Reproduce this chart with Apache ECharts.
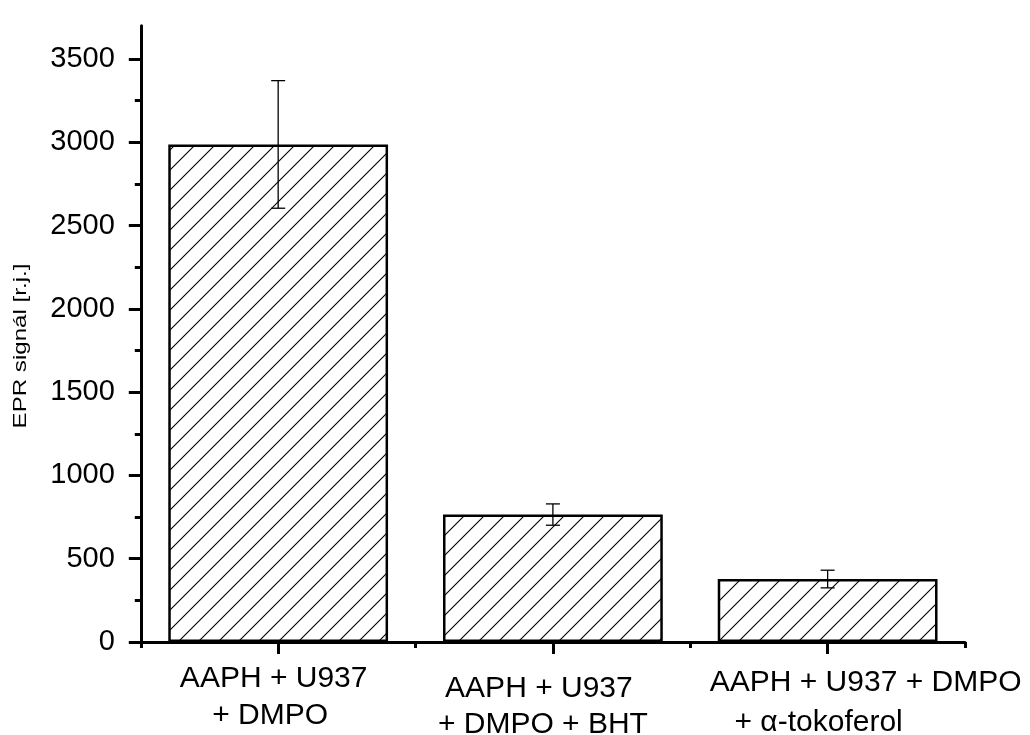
<!DOCTYPE html>
<html>
<head>
<meta charset="utf-8">
<script src="https://cdn.jsdelivr.net/npm/echarts@6/dist/echarts.min.js"></script>
<style>
  html, body { margin: 0; padding: 0; background: #fff; }
  #chart { width: 1030px; height: 735px; }
</style>
</head>
<body>
<div id="chart"></div>
<script>
// Sample groups (two-line labels)
const categories = [
  'AAPH + U937\n+ DMPO',
  'AAPH + U937\n+ DMPO + BHT',
  'AAPH + U937 + DMPO\n+ α-tokoferol'
];
// Mean EPR signal and its standard deviation
const signal = [2987, 765, 378];
const deviation = [383, 64, 53];
// Value-axis ticks
const majorTicks = [0, 500, 1000, 1500, 2000, 2500, 3000, 3500];
const minorTicks = [250, 750, 1250, 1750, 2250, 2750, 3250];

const FONT = 'Liberation Sans, Arial, sans-serif';
const Y_MAX = 3700;

// Diagonal hatch tile used to fill the bars
function hatchTile() {
  const s = 20;
  const c = document.createElement('canvas');
  c.width = s; c.height = s;
  const g = c.getContext('2d');
  g.fillStyle = '#fff';
  g.fillRect(0, 0, s, s);
  g.strokeStyle = '#000';
  g.lineWidth = 1.1;
  g.beginPath();
  g.moveTo(-2, s + 2); g.lineTo(s + 2, -2);
  g.moveTo(-2, 2); g.lineTo(2, -2);
  g.moveTo(s - 2, s + 2); g.lineTo(s + 2, s - 2);
  g.stroke();
  return c;
}

// Per-line layout of the category labels: [lineHeight, right pad, left pad]
const lineLayout = [
  [[28, 9, 0], [46, 16, 0]],
  [[48, 28, 0], [24, 20, 0]],
  [[36, 0, 76], [44, 18, 0]]
];
const rich = {};
lineLayout.forEach((lines, i) => {
  lines.forEach((o, j) => {
    rich['c' + i + '_' + j] = {
      fontSize: 30, fontFamily: FONT, color: '#000', lineHeight: o[0],
      padding: [0, o[1], 0, o[2]]
    };
  });
});

const chart = echarts.init(document.getElementById('chart'), null, { renderer: 'canvas' });

chart.setOption({
  backgroundColor: '#fff',
  animation: false,
  grid: {
    left: 140.8, right: 65, top: 642 - Y_MAX / 500 * 83.29, bottom: 93,
    containLabel: false,
    outerBoundsMode: 'none'
  },
  xAxis: [
    {
      type: 'category',
      data: categories,
      position: 'bottom',
      axisLine: { show: true, lineStyle: { color: '#000', width: 3 } },
      axisTick: { show: true, alignWithLabel: true, length: 12, lineStyle: { color: '#000', width: 3 } },
      axisLabel: {
        interval: 0,
        margin: 23,
        hideOverlap: false,
        formatter: (value, index) =>
          value.split('\n').map((line, j) => '{c' + index + '_' + j + '|' + line + '}').join('\n'),
        rich: rich
      },
      splitLine: { show: false }
    },
    {
      type: 'category',
      data: categories,
      position: 'bottom',
      axisLine: { show: false },
      axisTick: { show: true, length: 6, lineStyle: { color: '#000', width: 3 } },
      axisLabel: { show: false },
      splitLine: { show: false }
    }
  ],
  yAxis: [
    {
      type: 'value',
      min: 0,
      max: Y_MAX,
      interval: 500,
      position: 'left',
      axisLine: { show: true, lineStyle: { color: '#000', width: 3 } },
      axisTick: { show: true, length: 12, customValues: majorTicks, lineStyle: { color: '#000', width: 3 } },
      axisLabel: {
        customValues: majorTicks,
        formatter: v => String(v),
        margin: 26,
        fontSize: 29, fontFamily: FONT, color: '#000'
      },
      splitLine: { show: false }
    },
    {
      type: 'value',
      min: 0,
      max: Y_MAX,
      interval: 500,
      position: 'left',
      axisLine: { show: false },
      axisTick: { show: true, length: 6, customValues: minorTicks, lineStyle: { color: '#000', width: 3 } },
      axisLabel: { show: false },
      splitLine: { show: false }
    }
  ],
  graphic: [
    {
      type: 'text',
      x: 21, y: 346,
      rotation: Math.PI / 2,
      scaleX: 1.34,
      style: {
        text: 'EPR signál [r.j.]',
        font: '18px ' + FONT,
        fill: '#000',
        textAlign: 'center',
        textVerticalAlign: 'middle'
      }
    }
  ],
  series: [
    {
      type: 'bar',
      xAxisIndex: 0,
      yAxisIndex: 0,
      data: signal,
      barWidth: '80%',
      itemStyle: {
        color: { image: hatchTile(), repeat: 'repeat' },
        borderColor: '#000',
        borderWidth: 2.5
      },
      z: 2
    },
    {
      type: 'custom',
      xAxisIndex: 0,
      yAxisIndex: 0,
      data: signal.map((v, i) => [i, v - deviation[i], v + deviation[i]]),
      renderItem: (params, api) => {
        const lo = api.coord([api.value(0), api.value(1)]);
        const hi = api.coord([api.value(0), api.value(2)]);
        const x = lo[0];
        const half = 7;
        const style = { stroke: '#000', lineWidth: 1.3 };
        return {
          type: 'group',
          children: [
            { type: 'line', shape: { x1: x, y1: lo[1], x2: x, y2: hi[1] }, style },
            { type: 'line', shape: { x1: x - half, y1: lo[1], x2: x + half, y2: lo[1] }, style },
            { type: 'line', shape: { x1: x - half, y1: hi[1], x2: x + half, y2: hi[1] }, style }
          ]
        };
      },
      z: 5
    }
  ]
});
</script>
</body>
</html>
